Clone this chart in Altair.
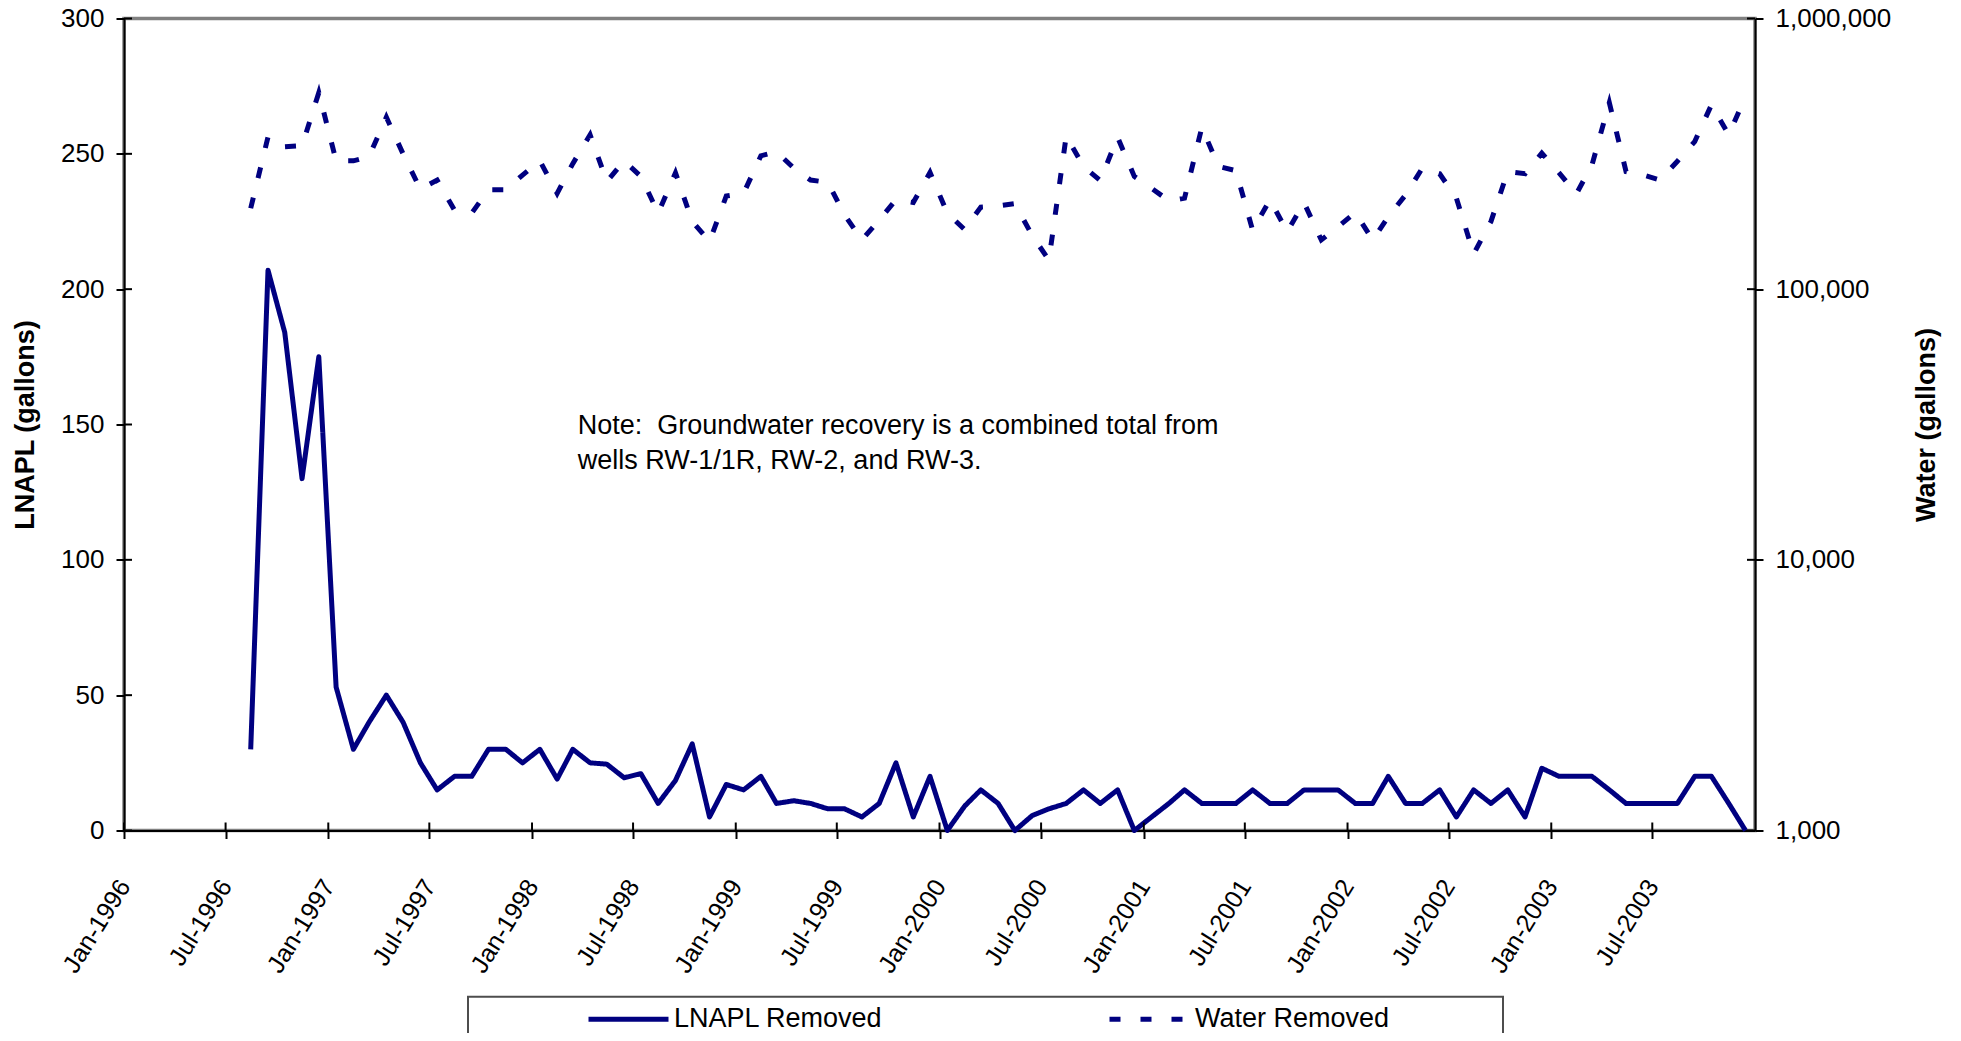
import altair as alt
import pandas as pd

NAVY = "#000080"
FONT = "Liberation Sans"

# Monthly readings, Aug-1996 .. Dec-2003 (mid-month)
lnapl = [30, 207, 184, 130, 175, 53, 30, 40, 50, 40, 25, 15, 20, 20, 30, 30, 25, 30, 19, 30,
         25, 24.5, 19.5, 21, 10, 18.5, 32, 5, 17, 15, 20, 10, 11, 10, 8, 8, 5, 10, 25, 5,
         20, 0, 9, 15, 10, 0, 5.5, 8, 10, 15, 10, 15, 0, 5, 10, 15, 10, 10, 10, 15,
         10, 10, 15, 15, 15, 10, 10, 20, 10, 10, 15, 5, 15, 10, 15, 5, 23, 20, 20, 20,
         15, 10, 10, 10, 10, 20, 20, 10, 0]
water = [199000, 365000, 336000, 339000, 532000, 298000, 298000, 309000, 432000, 316000,
         234000, 253000, 196000, 191000, 233000, 233000, 264000, 298000, 226000, 291000,
         372000, 250000, 298000, 261000, 191000, 269000, 178000, 150000, 221000, 226000,
         311000, 322000, 280000, 253000, 248000, 188000, 152000, 180000, 214000, 209000,
         270000, 191000, 166000, 201000, 203000, 207000, 158000, 128000, 368000, 284000,
         252000, 364000, 261000, 236000, 212000, 217000, 396000, 284000, 274000, 165000,
         214000, 163000, 209000, 152000, 170000, 192000, 152000, 185000, 223000, 280000,
         267000, 217000, 135000, 178000, 272000, 267000, 318000, 269000, 225000, 288000,
         489000, 272000, 264000, 253000, 297000, 351000, 480000, 372000, 515000]

dates = []
for i in range(len(lnapl)):
    mm = 7 + i
    dates.append(f"{1996 + mm // 12}-{mm % 12 + 1:02d}-15T00:00:00")

tick_ym = [(1996 + i // 2, 1 if i % 2 == 0 else 7) for i in range(16)]
tick_strings = [f"{y}-{m:02d}-01T00:00:00" for y, m in tick_ym]
left_ticks = [0, 50, 100, 150, 200, 250, 300]
right_ticks = [1000, 10000, 100000, 1000000]
series = ["LNAPL Removed", "Water Removed"]
note = "Note:\u00a0 Groundwater recovery is a combined total from\nwells RW-1/1R, RW-2, and RW-3."

W, H = 1631, 812

df_l = pd.DataFrame({"date": dates, "value": lnapl, "series": series[0]})
df_w = pd.DataFrame({"date": dates, "value": water, "series": series[1]})

x_enc = alt.X(
    "date:T", title=None,
    scale=alt.Scale(domain=[alt.DateTime(year=1996, month=1, date=1),
                            alt.DateTime(year=2004, month=1, date=1)]),
    axis=alt.Axis(values=[alt.DateTime(year=y, month=m, date=1) for y, m in tick_ym],
                  format="%b-%Y", labelAngle=-58, labelAlign="right", labelBaseline="middle",
                  labelPadding=43, labelOffset=0, tickSize=8, labelFontSize=25, grid=False,
                  domainColor="black", domainWidth=2, tickColor="black", tickWidth=2,
                  labelOverlap=False),
)

leg = alt.Legend(orient="none", legendX=462, legendY=958, direction="horizontal", title=None,
                 symbolType="stroke", symbolSize=6400, symbolStrokeWidth=5, labelFontSize=27,
                 labelFont=FONT, labelLimit=500, labelOffset=3, columnPadding=216, padding=0)
color_enc = alt.Color("series:N", scale=alt.Scale(domain=series, range=[NAVY, NAVY]), legend=leg)
dash_enc = alt.StrokeDash("series:N", scale=alt.Scale(domain=series, range=[[1, 0], [11, 20]]), legend=leg)

left_scale = alt.Scale(domain=[0, 300], nice=False)
right_scale = alt.Scale(type="log", domain=[1000, 1000000], nice=False)

common_axis = dict(labelFontSize=26, tickSize=8, labelPadding=12, grid=False, domainColor="black",
                   domainWidth=2, tickColor="black", tickWidth=2, titleFontSize=27,
                   titleFontWeight="bold", titleAngle=270, titleAlign="center",
                   titleBaseline="middle", titleY=406)

lnapl_line = alt.Chart(df_l).mark_line(strokeWidth=5, strokeJoin="round").encode(
    x=x_enc,
    y=alt.Y("value:Q", scale=left_scale,
            axis=alt.Axis(orient="left", values=left_ticks, title="LNAPL (gallons)", titleX=-99,
                          **common_axis)),
    color=color_enc, strokeDash=dash_enc,
)

water_line = alt.Chart(df_w).mark_line(strokeWidth=5, strokeCap="butt").encode(
    x=x_enc,
    y=alt.Y("value:Q", scale=right_scale,
            axis=alt.Axis(orient="right", values=right_ticks, format=",", title="Water (gallons)",
                          titleX=171, **common_axis)),
    color=color_enc, strokeDash=dash_enc,
)

x_inner = alt.Chart(pd.DataFrame({"date": tick_strings})).mark_rule(color="black", strokeWidth=2).encode(
    x=x_enc, y=alt.value(H - 8), y2=alt.value(H))
l_inner = alt.Chart(pd.DataFrame({"v": left_ticks})).mark_rule(color="black", strokeWidth=2).encode(
    y=alt.Y("v:Q", scale=left_scale, axis=None), x=alt.value(0), x2=alt.value(8))
r_inner = alt.Chart(pd.DataFrame({"v": right_ticks})).mark_rule(color="black", strokeWidth=2).encode(
    y=alt.Y("v:Q", scale=right_scale, axis=None), x=alt.value(W - 8), x2=alt.value(W))

note_layer = alt.Chart(pd.DataFrame({"date": ["1998-03-24T00:00:00"], "v": [146.5], "t": [note]})).mark_text(
    align="left", baseline="alphabetic", fontSize=27, font=FONT, lineBreak="\n", lineHeight=35,
    color="black").encode(x=x_enc, y=alt.Y("v:Q", scale=left_scale, axis=None), text="t:N")

legend_box = alt.Chart(pd.DataFrame({"k": [0]})).mark_rect(
    fill="white", fillOpacity=0, stroke="#4d4d4d", strokeWidth=2).encode(
    x=alt.value(344), x2=alt.value(1379), y=alt.value(978.2), y2=alt.value(1100))

chart = alt.layer(
    legend_box, lnapl_line, water_line, x_inner, l_inner, r_inner, note_layer
).resolve_scale(y="independent").properties(
    width=W, height=H,
    padding={"left": 116, "top": 10.5, "right": 190, "bottom": 202.5},
    autosize=alt.AutoSizeParams(type="none"),
).configure(font=FONT).configure_view(stroke="#808080", strokeWidth=3.5).configure_axis(
    labelFont=FONT, titleFont=FONT, labelColor="black", titleColor="black")

chart.save("out.html", embed_options={"renderer": "svg", "actions": False})
